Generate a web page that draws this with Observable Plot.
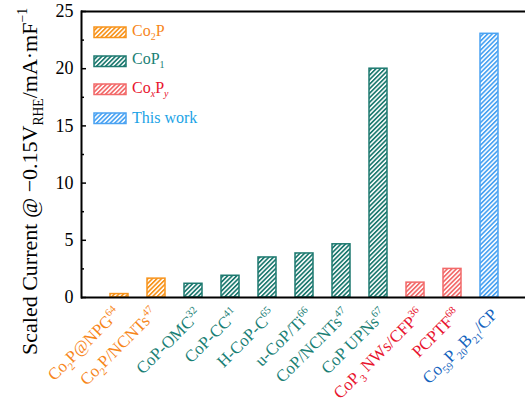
<!DOCTYPE html>
<html><head><meta charset="utf-8">
<script src="https://cdn.jsdelivr.net/npm/d3@7"></script>
<script src="https://cdn.jsdelivr.net/npm/@observablehq/plot@0.6"></script>
<style>
body{margin:0;background:#fff;}
#wrap{position:relative;width:525px;height:400px;font-family:"Liberation Serif","Times New Roman",serif;}
#legend{position:absolute;left:93px;top:18px;font-size:16px;line-height:1;}
#legend .item{height:28.7px;display:flex;align-items:center;}
#legend svg{margin-right:4px;}
</style></head><body><div id="wrap"><div id="legend"></div></div>
<script>
// ---- data ----
const samples = ["Co2P@NPG","Co2P/NCNTs","CoP-OMC","CoP-CC","H-CoP-C","u-CoP/Ti","CoP/NCNTs","CoP UPNs","CoP3 NWs/CFP","PCPTF","Co59P20B21/CP"];
const values  = [0.3, 1.65, 1.2, 1.9, 3.5, 3.85, 4.65, 20.0, 1.3, 2.5, 23.05];
const groups  = [0, 0, 1, 1, 1, 1, 1, 1, 2, 2, 3];
const tickLabels = ["Co_{2}P@NPG^{64}","Co_{2}P/NCNTs^{47}","CoP-OMC^{32}","CoP-CC^{41}","H-CoP-C^{65}","u-CoP/Ti^{66}","CoP/NCNTs^{47}","CoP UPNs^{67}","CoP_{3} NWs/CFP^{36}","PCPTF^{68}","Co_{59}P_{20}B_{21}/CP"];
const groupLabels = ["Co_{2}P","CoP_{1}","Co_{x}P_{y}","This work"];
const barColors = ["#F7941D","#1E7A70","#F26A6A","#4BA3F2"];
const labelColors = ["#F7861B","#1A8075","#E8142E","#1463BE"];
const legendTextColors = ["#F7861B","#1A8075","#E8142E","#1BA3E6"];
const yTicks = [0,5,10,15,20,25];
const yMinorTicks = [2.5,7.5,12.5,17.5,22.5];
const yTitle = "Scaled Current @ \u22120.15V_{RHE}/mA\u00B7mF^{\u22121}";

const data = samples.map((s,i)=>({sample:s, value:values[i], group:groups[i], label:tickLabels[i]}));

function parse(markup){
  const out=[]; const re=/(_\{[^}]*\}|\^\{[^}]*\})/g; let last=0, m;
  while((m=re.exec(markup))){ if(m.index>last) out.push({t:markup.slice(last,m.index),k:""});
    out.push({t:m[0].slice(2,-1),k:m[0][0]==="_"?"sub":"sup"}); last=re.lastIndex; }
  if(last<markup.length) out.push({t:markup.slice(last),k:""});
  return out;
}
const plain = m => parse(m).map(s=>s.t).join("");
function rich(el, markup, fs){
  const t=d3.select(el); t.text(""); let shift=0;
  for(const s of parse(markup)){
    const target = s.k==="sub"?0.28*fs:s.k==="sup"?-0.42*fs:0;
    const ts=t.append("tspan").text(s.t);
    if(target-shift!==0) ts.attr("dy",target-shift);
    if(s.k) ts.attr("font-size",0.62*fs);
    if(/^[xy]$/.test(s.t)) ts.attr("font-style","italic");
    shift=target;
  }
}

const FONT = "Liberation Serif, Times New Roman, serif";
const marks = [];
for(let k=0;k<barColors.length;k++){
  marks.push(Plot.barY(data.filter(d=>d.group===k),{x:"sample",y:"value",fill:`url(#hatch-${k})`,stroke:barColors[k],strokeWidth:1.5}));
}
const labelOpts = {x:"sample",text:d=>plain(d.label),frameAnchor:"bottom",rotate:-45,textAnchor:"end",lineAnchor:"bottom",fontSize:17,fontFamily:FONT};
marks.push(
  Plot.ruleY([0,25],{stroke:"#000",strokeWidth:2}),
  Plot.frame({anchor:"left",stroke:"#000",strokeWidth:2}),
  Plot.axisY({ticks:yTicks,tickSize:0,tickPadding:8,fontSize:18,label:null}),
  Plot.axisY({ticks:yTicks,tickSize:-5,tickFormat:()=>"",label:null,strokeWidth:1.5}),
  Plot.axisY({ticks:yMinorTicks,tickSize:-3,tickFormat:()=>"",label:null,strokeWidth:1.5}),
  Plot.text(data.filter(d=>d.group===0),{...labelOpts,dx:2,dy:17}),
  Plot.text(data.filter(d=>d.group!==0),{...labelOpts,dx:9,dy:18}),
  Plot.text([yTitle],{text:d=>plain(d),frameAnchor:"left",textAnchor:"middle",dx:-52,dy:27,rotate:-90,fontSize:22,fill:"#000",fontFamily:FONT})
);

const chart = Plot.plot({
  width:525, height:400,
  marginLeft:81, marginRight:0, marginTop:11, marginBottom:103,
  style:{fontFamily:FONT, color:"#000", background:"#fff"},
  x:{domain:samples, range:[98,510], paddingInner:0.52, paddingOuter:0.26, axis:null},
  y:{domain:[0,25], axis:null},
  marks
});

const svg=d3.select(chart);
const defs=svg.insert("defs",":first-child");
barColors.forEach((c,k)=>{
  const p=defs.append("pattern").attr("id",`hatch-${k}`).attr("patternUnits","userSpaceOnUse")
    .attr("width",3.2).attr("height",3.2).attr("patternTransform","rotate(45)");
  p.append("rect").attr("width",3.2).attr("height",3.2).attr("fill","#fff");
  p.append("rect").attr("width",1.7).attr("height",3.2).attr("fill",c);
});
const plainLabels = tickLabels.map(plain);
svg.selectAll("text").each(function(){
  const s=this.textContent;
  const idx=plainLabels.indexOf(s);
  if(idx>=0){ rich(this, tickLabels[idx], 17); d3.select(this).attr("fill", labelColors[groups[idx]]); }
  else if(s===plain(yTitle)){ rich(this, yTitle, 22); }
});

document.getElementById("wrap").prepend(chart);
chart.style.position="absolute"; chart.style.left="0"; chart.style.top="0";

// legend
const lg=d3.select("#legend");
groupLabels.forEach((l,k)=>{
  const it=lg.append("div").attr("class","item");
  const sw=it.append("svg").attr("width",35).attr("height",13);
  sw.append("rect").attr("x",1).attr("y",1).attr("width",32).attr("height",10.5).attr("fill",`url(#hatch-${k})`).attr("stroke",barColors[k]).attr("stroke-width",1.5);
  const sp=it.append("span").style("color",legendTextColors[k]);
  for(const s of parse(l)){
    if(s.k){ const e=sp.append(s.k).text(s.t).style("font-size","10px"); if(/^[xy]$/.test(s.t)) e.style("font-style","italic"); }
    else sp.append("span").text(s.t);
  }
});
</script></body></html>
